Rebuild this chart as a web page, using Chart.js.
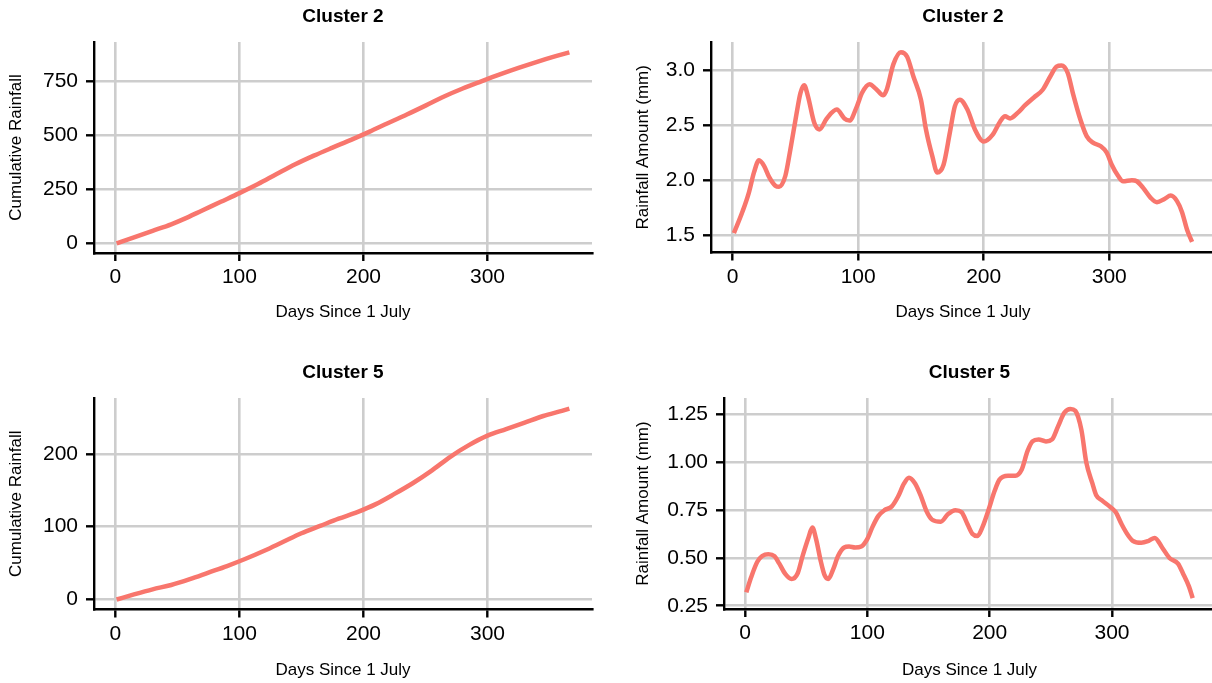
<!DOCTYPE html>
<html>
<head>
<meta charset="utf-8">
<script src="https://cdn.jsdelivr.net/npm/chart.js@4"></script>
<style>
html, body { margin:0; padding:0; background:#fff; overflow:hidden; width:1212px; height:683px; position:relative; }
canvas { position:absolute; }
</style>
</head>
<body>
<canvas id="c1"></canvas>
<canvas id="c2"></canvas>
<canvas id="c3"></canvas>
<canvas id="c4"></canvas>
<script>
// ---------------- DATA ----------------
const xTickValues = [0, 100, 200, 300];
const xTickLabels = ['0', '100', '200', '300'];

// Cluster 2 cumulative rainfall
const cum2Days = [1, 15, 30, 45, 55, 70, 85, 100, 115, 130, 145, 160, 175, 190, 205, 220, 235, 250, 265, 280, 295, 310, 325, 340, 355, 366];
const cum2Values = [0, 28, 58, 88, 112, 152, 192, 232, 274, 320, 365, 405, 442, 478, 516, 556, 595, 636, 678, 715, 748, 780, 810, 838, 864, 882];
const cum2TickValues = [0, 250, 500, 750];
const cum2TickLabels = ['0', '250', '500', '750'];

// Cluster 2 daily rainfall amount (mm)
const rain2Days = [1, 8, 13, 17, 21, 25, 29, 34, 37, 42, 46, 51, 54, 57, 60, 65, 69, 75, 83, 89, 93, 99, 103, 109, 114, 120, 123, 128, 134, 139, 144, 150, 154, 159, 163, 168, 173, 177, 181, 187, 193, 200, 207, 213, 217, 221, 227, 233, 240, 247, 253, 258, 262, 267, 271, 277, 282, 287, 293, 298, 302, 307, 311, 318, 322, 327, 333, 338, 344, 349, 354, 358, 362, 366];
const rain2Values = [1.52, 1.72, 1.89, 2.07, 2.18, 2.13, 2.03, 1.95, 1.94, 2.04, 2.28, 2.61, 2.79, 2.86, 2.76, 2.52, 2.46, 2.56, 2.64, 2.56, 2.54, 2.67, 2.79, 2.87, 2.83, 2.77, 2.83, 3.05, 3.16, 3.12, 2.94, 2.73, 2.46, 2.22, 2.07, 2.14, 2.43, 2.67, 2.73, 2.64, 2.46, 2.35, 2.41, 2.53, 2.58, 2.56, 2.61, 2.68, 2.75, 2.82, 2.94, 3.03, 3.04, 2.97, 2.79, 2.55, 2.40, 2.34, 2.31, 2.25, 2.14, 2.04, 1.99, 2.00, 1.99, 1.93, 1.84, 1.80, 1.83, 1.86, 1.81, 1.71, 1.55, 1.44];
const rain2TickValues = [1.5, 2.0, 2.5, 3.0];
const rain2TickLabels = ['1.5', '2.0', '2.5', '3.0'];

// Cluster 5 cumulative rainfall
const cum5Days = [1, 15, 30, 45, 60, 75, 90, 105, 120, 135, 150, 165, 180, 195, 210, 225, 240, 255, 270, 285, 300, 315, 330, 345, 360, 366];
const cum5Values = [0, 7, 14, 20, 28, 37, 46, 56, 67, 79, 91, 101, 111, 120, 131, 145, 160, 177, 196, 212, 225, 234, 243, 252, 259, 262];
const cum5TickValues = [0, 100, 200];
const cum5TickLabels = ['0', '100', '200'];

// Cluster 5 daily rainfall amount (mm)
const rain5Days = [1, 5, 10, 14, 19, 24, 28, 33, 38, 43, 47, 52, 55, 58, 62, 65, 68, 72, 76, 81, 85, 90, 95, 100, 104, 109, 114, 120, 125, 130, 134, 139, 144, 148, 153, 160, 166, 172, 177, 182, 186, 190, 194, 199, 204, 208, 215, 221, 226, 231, 235, 240, 246, 251, 256, 261, 266, 270, 275, 279, 284, 287, 292, 298, 303, 308, 313, 317, 324, 330, 335, 341, 347, 354, 358, 363, 366];
const rain5Values = [0.32, 0.40, 0.48, 0.51, 0.52, 0.51, 0.47, 0.415, 0.39, 0.42, 0.51, 0.61, 0.66, 0.60, 0.48, 0.41, 0.39, 0.44, 0.51, 0.555, 0.56, 0.555, 0.56, 0.60, 0.66, 0.72, 0.75, 0.77, 0.82, 0.89, 0.92, 0.89, 0.82, 0.75, 0.70, 0.69, 0.73, 0.75, 0.74, 0.675, 0.625, 0.615, 0.66, 0.75, 0.85, 0.91, 0.93, 0.93, 0.96, 1.06, 1.11, 1.12, 1.11, 1.12, 1.19, 1.26, 1.28, 1.27, 1.17, 1.00, 0.89, 0.83, 0.80, 0.77, 0.74, 0.675, 0.62, 0.59, 0.58, 0.59, 0.605, 0.555, 0.50, 0.47, 0.42, 0.35, 0.29];
const rain5TickValues = [0.25, 0.50, 0.75, 1.00, 1.25];
const rain5TickLabels = ['0.25', '0.50', '0.75', '1.00', '1.25'];

// ---------------- LAYOUT / STYLE ----------------
const FONT = '"Liberation Sans", Arial, Helvetica, sans-serif';
const LINE_COLOR = '#F8766D';
const TICK_SIZE = 21, AXT_SIZE = 17, TITLE_SIZE = 19;

const panels = [
  { id:'c1', title:'Cluster 2', yTitle:'Cumulative Rainfall', days:cum2Days, vals:cum2Values,
    yMin:-44.2, yMax:929.5, yTicks:cum2TickValues, yLabels:cum2TickLabels,
    cv:{left:0, top:0, w:606, h:341}, area:{l:94, t:42, r:592, b:253},
    titleY:17, yTitleX:16.5, xTitleY:312.5 },
  { id:'c2', title:'Cluster 2', yTitle:'Rainfall Amount (mm)', days:rain2Days, vals:rain2Values,
    yMin:1.344, yMax:3.253, yTicks:rain2TickValues, yLabels:rain2TickLabels,
    cv:{left:606, top:0, w:612, h:341}, area:{l:711, t:42, r:1215, b:252.5},
    titleY:17, yTitleX:643.5, xTitleY:312.5 },
  { id:'c3', title:'Cluster 5', yTitle:'Cumulative Rainfall', days:cum5Days, vals:cum5Values,
    yMin:-13.7, yMax:276.7, yTicks:cum5TickValues, yLabels:cum5TickLabels,
    cv:{left:0, top:341, w:606, h:342}, area:{l:94, t:398, r:592, b:609.5},
    titleY:372.7, yTitleX:16.5, xTitleY:670 },
  { id:'c4', title:'Cluster 5', yTitle:'Rainfall Amount (mm)', days:rain5Days, vals:rain5Values,
    yMin:0.233, yMax:1.337, yTicks:rain5TickValues, yLabels:rain5TickLabels,
    cv:{left:606, top:341, w:612, h:342}, area:{l:724, t:398, r:1215, b:609},
    titleY:372.7, yTitleX:643.5, xTitleY:670 }
];

panels.forEach(p => {
  const el = document.getElementById(p.id);
  el.width = p.cv.w; el.height = p.cv.h;
  el.style.left = p.cv.left + 'px'; el.style.top = p.cv.top + 'px';
  el.style.width = p.cv.w + 'px'; el.style.height = p.cv.h + 'px';

  const titleLH = TITLE_SIZE * 1.2;
  const tTop = p.titleY - p.cv.top - titleLH / 2;
  const tBottom = (p.area.t - p.cv.top) - tTop - titleLH;
  const axLH = AXT_SIZE * 1.2;
  const yTitlePad = p.yTitleX - p.cv.left - axLH / 2;
  const xScaleH = p.cv.top + p.cv.h - p.area.b;
  const xTitlePad = (p.cv.top + p.cv.h) - p.xTitleY - axLH / 2;
  const yScaleW = p.area.l - p.cv.left;
  const padRight = p.cv.w - (p.area.r - p.cv.left);

  new Chart(el, {
    type: 'line',
    data: {
      datasets: [{
        data: p.days.map((d, i) => ({ x: d, y: p.vals[i] })),
        borderColor: LINE_COLOR,
        borderWidth: 4.5,
        pointRadius: 0,
        fill: false,
        cubicInterpolationMode: 'monotone'
      }]
    },
    options: {
      responsive: false,
      animation: false,
      devicePixelRatio: 1,
      layout: { padding: { left: 0, top: 0, bottom: 0, right: padRight } },
      plugins: {
        legend: { display: false },
        tooltip: { enabled: false },
        title: {
          display: true, text: p.title, fullSize: false, color: '#000',
          font: { family: FONT, size: TITLE_SIZE, weight: 'bold' },
          padding: { top: tTop, bottom: tBottom }
        }
      },
      scales: {
        x: {
          type: 'linear', min: -17.25, max: 384.25,
          afterBuildTicks: s => { s.ticks = xTickValues.map(v => ({ value: v })); },
          afterFit: s => { s.height = xScaleH; },
          ticks: {
            callback: (v, i) => xTickLabels[i], color: '#000', autoSkip: false, maxRotation: 0,
            font: { family: FONT, size: TICK_SIZE }, padding: 4
          },
          grid: { color: '#cdcdcd', lineWidth: 2.6, tickColor: '#000', tickWidth: 2.4, tickLength: 8 },
          border: { color: '#000', width: 2.4 },
          title: {
            display: true, text: 'Days Since 1 July', color: '#000',
            font: { family: FONT, size: AXT_SIZE }, padding: { top: 0, bottom: xTitlePad }
          }
        },
        y: {
          type: 'linear', min: p.yMin, max: p.yMax,
          afterBuildTicks: s => { s.ticks = p.yTicks.map(v => ({ value: v })); },
          afterFit: s => { s.width = yScaleW; },
          ticks: {
            callback: (v, i) => p.yLabels[i], color: '#000', autoSkip: false,
            font: { family: FONT, size: TICK_SIZE }, padding: 8
          },
          grid: { color: '#cdcdcd', lineWidth: 2.6, tickColor: '#000', tickWidth: 2.4, tickLength: 8 },
          border: { color: '#000', width: 2.4 },
          title: {
            display: true, text: p.yTitle, color: '#000',
            font: { family: FONT, size: AXT_SIZE }, padding: { top: yTitlePad, bottom: 0 }
          }
        }
      }
    }
  });
});
</script>
</body>
</html>
